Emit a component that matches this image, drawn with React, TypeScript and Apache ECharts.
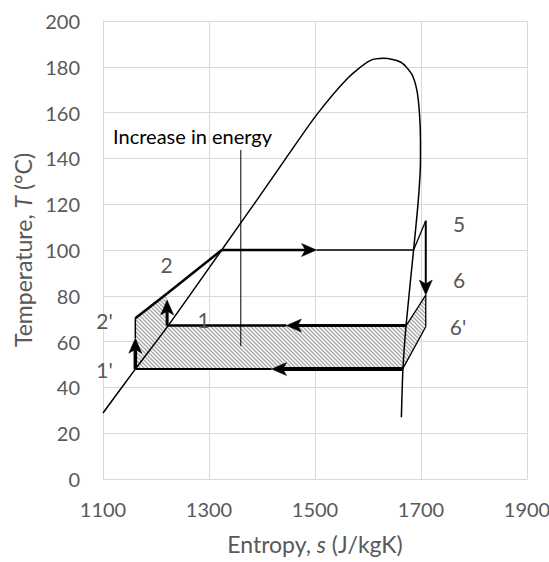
import { useEffect, useRef } from "react";
import * as echarts from "echarts";

const FONT = "Lato, 'Open Sans', sans-serif";
const GRAY = "#595959";
const GRID = "#d9d9d9";

// axes
const xMin = 1100;
const xMax = 1900;
const xStep = 200;
const yMin = 0;
const yMax = 200;
const yStep = 20;

// saturation dome (entropy J/kgK, temperature °C)
const domeS = [1100, 1161, 1223, 1324, 1390, 1445, 1503, 1563, 1603, 1630, 1662, 1682, 1692, 1697, 1699, 1699, 1695, 1686, 1672, 1666, 1663];
const domeT = [28.8, 48, 67, 100, 121.7, 140, 159, 175.3, 182.6, 183.7, 182, 177, 170, 160, 148, 139, 122, 100, 67.5, 48.3, 27];

// hatched region (increase in energy)
const hatchS = [1161, 1161, 1221, 1221, 1672, 1709, 1709, 1666];
const hatchT = [48, 70.2, 81, 67, 67, 80.3, 66.5, 48.3];

// cycle segments [s1, T1, s2, T2]
const cycleSegments: number[][] = [
  [1161, 70.2, 1221, 81],
  [1221, 81, 1324, 100],
  [1324, 100, 1503, 100],
  [1503, 100, 1686, 100],
  [1686, 100, 1709, 112.8],
  [1709, 112.8, 1709, 80.3],
  [1709, 80.3, 1672, 67],
  [1709, 80.3, 1709, 66.5],
  [1709, 66.5, 1666, 48.3],
  [1672, 67, 1446, 67],
  [1446, 67, 1221, 67],
  [1666, 48, 1418, 48],
  [1418, 48, 1161, 48],
  [1161, 48, 1161, 61.5],
  [1161, 61.5, 1161, 70.2],
  [1221, 67, 1221, 78.2],
  [1360, 58, 1360, 143.7],
];
const segWidths = [2.5, 2.5, 2.5, 1.3, 1.3, 2, 1.3, 1.3, 1.3, 3, 2.5, 4, 2, 3.5, 1.5, 3, 1];
const segArrow = [0, 0, 1, 0, 0, 1, 0, 0, 0, 1, 0, 1, 0, 1, 0, 1, 0];

// point labels
const pointLabels = ["5", "6", "6'", "2", "2'", "1", "1'"];
const labelS = [1772, 1772, 1770, 1220, 1103, 1290, 1103];
const labelT = [111.7, 87.3, 66.5, 93.8, 69.1, 69.7, 47.6];

// annotation
const noteText = "Increase in energy";
const noteS = 1269;
const noteT = 149.8;

function makeHatch(): HTMLCanvasElement {
  const n = 4;
  const c = document.createElement("canvas");
  c.width = n;
  c.height = n;
  const ctx = c.getContext("2d")!;
  ctx.fillStyle = "#ffffff";
  ctx.fillRect(0, 0, n, n);
  ctx.strokeStyle = "#a6a6a6";
  ctx.lineWidth = 1.3;
  ctx.beginPath();
  for (let k = -1; k <= 1; k++) {
    ctx.moveTo(-1, -1 + k * n);
    ctx.lineTo(n + 1, n + 1 + k * n);
  }
  ctx.stroke();
  return c;
}

export default function App() {
  const ref = useRef<HTMLDivElement>(null);
  useEffect(() => {
    const chart = echarts.init(ref.current!, null, { renderer: "svg" });
    const hatch = makeHatch();
    const option: any = {
      animation: false,
      backgroundColor: "#ffffff",
      grid: { left: 103, right: 22, top: 21, bottom: 83, containLabel: false, outerBoundsMode: "none" },
      xAxis: {
        type: "value",
        min: xMin,
        max: xMax,
        interval: xStep,
        name: "Entropy, {i|s} (J/kgK)",
        nameLocation: "middle",
        nameGap: 53,
        nameTextStyle: {
          color: GRAY,
          fontSize: 23,
          fontFamily: FONT,
          rich: { i: { fontStyle: "italic", color: GRAY, fontSize: 23, fontFamily: FONT } },
        },
        axisLine: { show: true, lineStyle: { color: GRID, width: 1 } },
        axisTick: { show: false },
        axisLabel: { color: GRAY, fontSize: 20, fontFamily: FONT, margin: 20, formatter: (v: number) => String(v) },
        splitLine: { show: true, lineStyle: { color: GRID, width: 1 } },
      },
      yAxis: {
        type: "value",
        min: yMin,
        max: yMax,
        interval: yStep,
        name: "Temperature, {i|T} (°C)",
        nameLocation: "middle",
        nameGap: 69,
        nameTextStyle: {
          color: GRAY,
          fontSize: 23,
          fontFamily: FONT,
          rich: { i: { fontStyle: "italic", color: GRAY, fontSize: 23, fontFamily: FONT } },
        },
        axisLine: { show: true, lineStyle: { color: GRID, width: 1 } },
        axisTick: { show: false },
        axisLabel: { color: GRAY, fontSize: 20, fontFamily: FONT, margin: 23, formatter: (v: number) => String(v) },
        splitLine: { show: true, lineStyle: { color: GRID, width: 1 } },
      },
      series: [
        {
          type: "custom",
          z: 1,
          data: [[hatchS[0], hatchT[0]]],
          renderItem: (_p: any, api: any) => ({
            type: "polygon",
            shape: { points: hatchS.map((s, i) => api.coord([s, hatchT[i]])) },
            style: { fill: { image: hatch, repeat: "repeat", imageWidth: 4, imageHeight: 4 }, stroke: "none" },
          }),
        },
        {
          type: "line",
          z: 3,
          data: domeS.map((s, i) => [s, domeT[i]]),
          smooth: 0.25,
          showSymbol: false,
          symbol: "none",
          lineStyle: { color: "#000", width: 1.5 },
        },
        {
          type: "custom",
          z: 4,
          data: cycleSegments.map((s, i) => [s[0], s[1], s[2], s[3], segWidths[i], segArrow[i]]),
          renderItem: (_p: any, api: any) => {
            const p1 = api.coord([api.value(0), api.value(1)]);
            const p2 = api.coord([api.value(2), api.value(3)]);
            const w = api.value(4);
            const arrow = api.value(5) === 1;
            if (!arrow) {
              return {
                type: "line",
                shape: { x1: p1[0], y1: p1[1], x2: p2[0], y2: p2[1] },
                style: { stroke: "#000", lineWidth: w, lineCap: "butt" },
              };
            }
            const dx = p2[0] - p1[0];
            const dy = p2[1] - p1[1];
            const len = Math.sqrt(dx * dx + dy * dy) || 1;
            const ux = dx / len;
            const uy = dy / len;
            const nx = -uy;
            const ny = ux;
            const L = 15;
            const hw = 6.5;
            const bx = p2[0] - ux * L;
            const by = p2[1] - uy * L;
            const mx = p2[0] - ux * L * 0.75;
            const my = p2[1] - uy * L * 0.75;
            return {
              type: "group",
              children: [
                {
                  type: "line",
                  shape: { x1: p1[0], y1: p1[1], x2: mx, y2: my },
                  style: { stroke: "#000", lineWidth: w, lineCap: "butt" },
                },
                {
                  type: "polygon",
                  shape: {
                    points: [
                      [p2[0], p2[1]],
                      [bx + nx * hw, by + ny * hw],
                      [mx, my],
                      [bx - nx * hw, by - ny * hw],
                    ],
                  },
                  style: { fill: "#000", stroke: "#000", lineWidth: 0.5 },
                },
              ],
            };
          },
        },
        {
          type: "custom",
          z: 5,
          clip: false,
          data: labelS.map((s, i) => [s, labelT[i]]),
          renderItem: (p: any, api: any) => {
            const c = api.coord([api.value(0), api.value(1)]);
            return {
              type: "text",
              x: c[0],
              y: c[1],
              style: {
                text: pointLabels[p.dataIndex],
                fill: GRAY,
                fontSize: 21,
                fontFamily: FONT,
                align: "center",
                verticalAlign: "middle",
              },
            };
          },
        },
        {
          type: "custom",
          z: 5,
          clip: false,
          data: [[noteS, noteT]],
          renderItem: (_p: any, api: any) => {
            const c = api.coord([api.value(0), api.value(1)]);
            return {
              type: "text",
              x: c[0],
              y: c[1],
              style: {
                text: noteText,
                fill: "#000",
                fontSize: 20,
                fontFamily: FONT,
                align: "center",
                verticalAlign: "middle",
              },
            };
          },
        },
      ],
    };
    chart.setOption(option);
    return () => chart.dispose();
  }, []);
  return (
    <div
      ref={ref}
      style={{ position: "fixed", left: 0, top: 0, width: 549, height: 562, background: "#fff" }}
    />
  );
}
